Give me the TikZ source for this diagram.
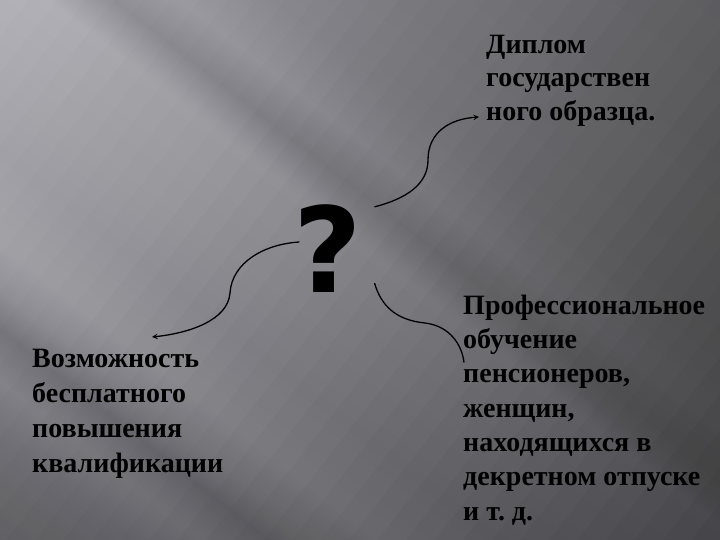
\documentclass[tikz,border=0pt]{standalone}
\usepackage{fontspec}
\setmainfont{Liberation Serif}
\newfontfamily\qfont{DejaVu Sans}
\usetikzlibrary{calc}

\definecolor{bgA}{RGB}{120,120,126}
\definecolor{bgB}{RGB}{138,138,144}
\definecolor{bgC}{RGB}{152,152,158}
\definecolor{bgD}{RGB}{136,136,142}
\definecolor{bgE}{RGB}{160,160,166}
\definecolor{bgF}{RGB}{176,176,182}
\definecolor{bgG}{RGB}{170,170,176}
\definecolor{bgH}{RGB}{180,180,186}
\definecolor{bgI}{RGB}{152,152,158}
\definecolor{bgJ}{RGB}{168,168,174}
\definecolor{bgK}{RGB}{156,156,162}
\definecolor{bgL}{RGB}{148,148,154}
\definecolor{bgM}{RGB}{146,146,152}

\pgfdeclareverticalshading{streaks}{100bp}{color(0bp)=(bgA); color(27.1bp)=(bgA);
  color(31.8bp)=(bgB); color(33.9bp)=(bgC); color(36.0bp)=(bgD); color(37.6bp)=(bgE);
  color(39.6bp)=(bgF); color(43.3bp)=(bgG); color(47.4bp)=(bgF); color(51.1bp)=(bgH);
  color(53.2bp)=(bgI); color(55.3bp)=(bgJ); color(58.4bp)=(bgK); color(62.6bp)=(bgI);
  color(67.8bp)=(bgL); color(73.0bp)=(bgM); color(100bp)=(bgM)}

\frenchspacing

\begin{document}
\begin{tikzpicture}[x=0.03cm,y=-0.03cm,>=stealth,
  txt/.style={anchor=north west,inner sep=0pt,align=left,
    font=\bfseries\fontsize{23.9}{#1}\selectfont},
  link/.style={line width=1.1pt}]
\useasboundingbox (0,0) rectangle (720,540);
% Background
\clip (0,0) rectangle (720,540);
\begin{scope}[transform canvas={rotate around={-38:(360,270)}}]
  \shade[shading=streaks] (-140,-210) rectangle (860,750);
  \foreach \k in {0,...,39}
    \fill[black,opacity={0.008+0.0005*\k}] ({-90+22.5*\k},-210) rectangle (860,750);
\end{scope}

% Question mark
\node[inner sep=0pt,font=\qfont\bfseries\fontsize{101}{101}\selectfont] (q) at (328,249) {?};

% Texts
\node[txt=28.6pt] (dip) at (486,34.5) {Диплом\\государствен\\ного образца.};
\node[txt=29.9pt] (voz) at (32,348.5) {Возможность\\бесплатного\\повышения\\квалификации};
\node[txt=29.3pt] (prof) at (463,294.5) {Профессиональное\\обучение\\пенсионеров,\\женщин,\\находящихся в\\декретном отпуске\\и т. д.};

% Connectors
\draw[link,->] ($(q.north east)+(12,2)$) .. controls (405,199) and (428,185) .. (428,160)
  .. controls (428,132) and (450,119) .. ($(dip.north west)+(-7,82.5)$);
\draw[link,->] ($(q.west)+(6,-7)$) .. controls (265,244) and (232,262) .. (230,293)
  .. controls (228,320) and (190,333) .. ($(voz.north west)+(120,-11.5)$);
\draw[link] ($(q.south east)+(12,-10)$) .. controls (381,305) and (395,320) .. (425,323)
  .. controls (450,326) and (462,345) .. ($(prof.north west)+(1,68)$);

\end{tikzpicture}
\end{document}
